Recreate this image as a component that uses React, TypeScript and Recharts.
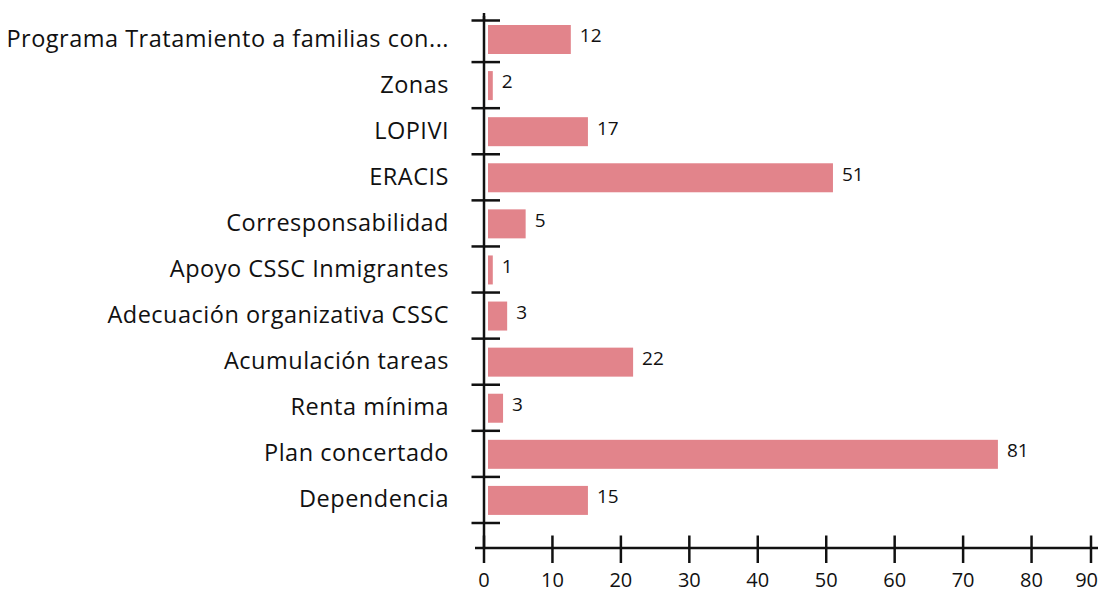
import React from "react";
import { Bar, BarChart, LabelList, XAxis, YAxis } from "recharts";

// categories, top to bottom
const categories = [
  "Programa Tratamiento a familias con...",
  "Zonas",
  "LOPIVI",
  "ERACIS",
  "Corresponsabilidad",
  "Apoyo CSSC Inmigrantes",
  "Adecuación organizativa CSSC",
  "Acumulación tareas",
  "Renta mínima",
  "Plan concertado",
  "Dependencia",
];

// numbers printed next to each bar
const counts = [12, 2, 17, 51, 5, 1, 3, 22, 3, 81, 15];

// bar lengths as drawn in the picture (they don't always match the printed number)
const barLengths = [12.1, 0.7, 14.6, 50.4, 5.5, 0.7, 2.8, 21.2, 2.2, 74.5, 14.6];

const xTicks = [0, 10, 20, 30, 40, 50, 60, 70, 80, 90];

const data = categories.map((name, i) => ({
  name,
  len: barLengths[i],
  count: counts[i],
}));

const WIDTH = 1098;
const HEIGHT = 590;
const FONT = "'Open Sans', sans-serif";
const INK = "#111";
const BAR_COLOR = "#e2848b";
const PLOT_TOP = 16;
const X_AXIS_H = 42;
const Y_PAD_BOTTOM = 25;
const BAND = (HEIGHT - X_AXIS_H - PLOT_TOP - Y_PAD_BOTTOM) / categories.length;

const YTick = (props: any) => {
  const { x, y, payload, index } = props;
  // top tick sits a bit lower in the original
  const top = index === 0 ? y - BAND / 2 + 4.5 : y - BAND / 2;
  return (
    <g>
      <line x1={x - 12.5} x2={x + 16} y1={top} y2={top} stroke={INK} strokeWidth={2.5} />
      {index === categories.length - 1 && (
        <line
          x1={x - 12.5}
          x2={x + 16}
          y1={y + BAND / 2}
          y2={y + BAND / 2}
          stroke={INK}
          strokeWidth={2.5}
        />
      )}
      {index === 0 && (
        <line x1={x} x2={x} y1={13} y2={top} stroke={INK} strokeWidth={2.5} />
      )}
      <text
        x={x - 35}
        y={y - 1}
        dy="0.36em"
        textAnchor="end"
        fill={INK}
        fontSize={23.5}
        letterSpacing={0.5}
        fontFamily={FONT}
      >
        {payload.value}
      </text>
    </g>
  );
};

const XTick = (props: any) => {
  const { x, y, payload } = props;
  const lx = Math.min(x, WIDTH - 7);
  const last = payload.value === xTicks[xTicks.length - 1];
  return (
    <g>
      {payload.value === 0 && (
        <line x1={x - 9} x2={x} y1={y} y2={y} stroke={INK} strokeWidth={2.5} />
      )}
      <line x1={lx} x2={lx} y1={y - 12.5} y2={y + 15} stroke={INK} strokeWidth={2.5} />
      <text
        x={last ? WIDTH : x}
        y={y + 39}
        textAnchor={last ? "end" : "middle"}
        fill={INK}
        fontSize={20}
        fontFamily={FONT}
      >
        {payload.value}
      </text>
    </g>
  );
};

const OffsetBar = (props: any) => {
  const { x, y, width, height, fill } = props;
  return <rect x={x + 4} y={y} width={width} height={height} fill={fill} />;
};

const ValueLabel = (props: any) => {
  const { x, y, width, height, value } = props;
  return (
    <text
      x={x + width + 13}
      y={y + height / 2 - 4}
      dy="0.36em"
      fill={INK}
      fontSize={19}
      fontFamily={FONT}
    >
      {value}
    </text>
  );
};

export default function App() {
  return (
    <div style={{ position: "absolute", left: 0, top: 0, background: "#fff" }}>
      <BarChart
        width={WIDTH}
        height={HEIGHT}
        data={data}
        layout="vertical"
        margin={{ top: PLOT_TOP, right: -2, bottom: 0, left: 0 }}
      >
        <XAxis
          type="number"
          domain={[0, 90]}
          ticks={xTicks}
          interval={0}
          height={X_AXIS_H}
          tickSize={0}
          tickMargin={0}
          axisLine={{ stroke: INK, strokeWidth: 2.5 }}
          tick={<XTick />}
        />
        <YAxis
          type="category"
          dataKey="name"
          width={484}
          padding={{ top: 0, bottom: Y_PAD_BOTTOM }}
          tickSize={0}
          tickMargin={0}
          interval={0}
          axisLine={{ stroke: INK, strokeWidth: 2.5 }}
          tick={<YTick />}
        />
        <Bar
          dataKey="len"
          fill={BAR_COLOR}
          barSize={29}
          shape={<OffsetBar />}
          isAnimationActive={false}
        >
          <LabelList dataKey="count" content={<ValueLabel />} />
        </Bar>
      </BarChart>
    </div>
  );
}
